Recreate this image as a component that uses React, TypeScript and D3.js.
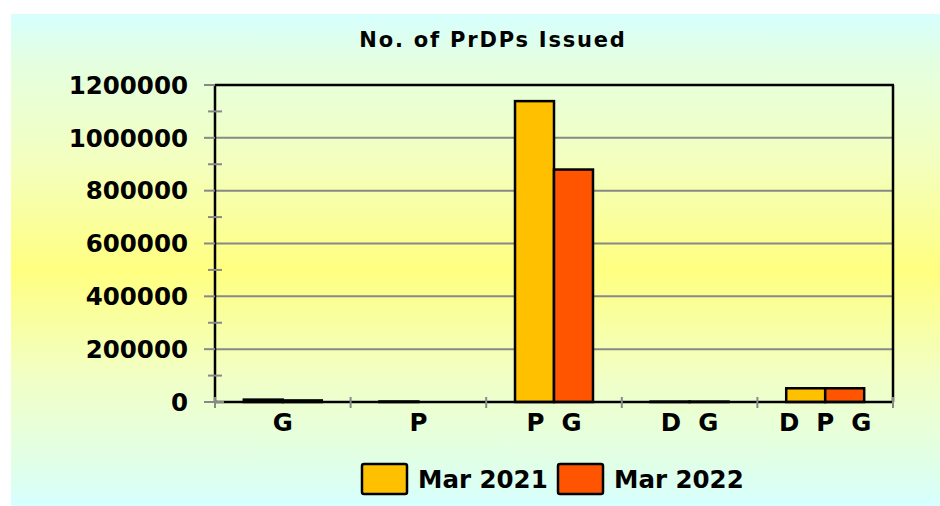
import React from "react";
import * as d3 from "d3";

const categories = ["G", "P", "P  G", "D  G", "D  P  G"];
const seriesNames = ["Mar 2021", "Mar 2022"];
const mar2021 = [9000, 2000, 1139000, 1500, 52000];
const mar2022 = [6000, 0, 880000, 1500, 52000];
const yTicks = [0, 200000, 400000, 600000, 800000, 1000000, 1200000];
const colors = ["#FFC000", "#FF5500"];

const W = 940, H = 506;
const L = 215, R = 893, T = 85, B = 402;
const FONT = "'DejaVu Sans', Arial, sans-serif";

export default function App() {
  const x = d3.scaleBand<string>().domain(categories).range([L, R]).paddingInner(0.425).paddingOuter(0.2125);
  const xs = d3.scaleBand<string>().domain(seriesNames).range([0, x.bandwidth()]);
  const y = d3.scaleLinear().domain([0, 1200000]).range([B, T]);
  const minor = d3.range(100000, 1200000, 200000);
  const series = [mar2021, mar2022];
  const bounds = d3.range(categories.length + 1).map((i) => L + (i * (R - L)) / categories.length);

  return (
    <svg width={W} height={H} style={{ position: "absolute", left: 0, top: 0 }}>
      <defs>
        <linearGradient id="bg" x1="0" y1="0" x2="0" y2="1">
          <stop offset="0" stopColor="#d6fffe" />
          <stop offset="0.1" stopColor="#e4ffe0" />
          <stop offset="0.3" stopColor="#f3ffbf" />
          <stop offset="0.52" stopColor="#ffff80" />
          <stop offset="0.74" stopColor="#f1ffc6" />
          <stop offset="0.9" stopColor="#e2ffe4" />
          <stop offset="1" stopColor="#d6fffe" />
        </linearGradient>
      </defs>
      <rect x={11} y={14} width={W - 11} height={H - 14} fill="url(#bg)" />
      <text x={493} y={47} textAnchor="middle" fontFamily={FONT} fontWeight="bold" fontSize={21} letterSpacing={1.8}>
        No. of PrDPs Issued
      </text>
      {/* gridlines */}
      {yTicks.slice(1, -1).map((t) => (
        <line key={t} x1={L} x2={R} y1={y(t)} y2={y(t)} stroke="#888" strokeWidth={2} />
      ))}
      {/* frame top and right */}
      <line x1={L} x2={R + 1} y1={T} y2={T} stroke="#000" strokeWidth={2.5} />
      <line x1={R} x2={R} y1={T} y2={B} stroke="#000" strokeWidth={2.5} />
      {/* bars */}
      {series.map((vals, si) =>
        categories.map((c, ci) => {
          const v = vals[ci];
          if (v <= 0) return null;
          const x0 = (x(c) as number) + (xs(seriesNames[si]) as number);
          return (
            <rect key={si + "-" + ci} x={x0} y={y(v)} width={xs.bandwidth()} height={B - y(v)}
              fill={colors[si]} stroke="#000" strokeWidth={2.5} />
          );
        })
      )}
      {/* axes */}
      <line x1={L} x2={L} y1={T} y2={B} stroke="#000" strokeWidth={2.5} />
      <line x1={L} x2={R} y1={B} y2={B} stroke="#000" strokeWidth={2.5} />
      {yTicks.map((t) => (
        <line key={"mt" + t} x1={204} x2={L} y1={y(t)} y2={y(t)} stroke="#888" strokeWidth={2} />
      ))}
      {minor.map((t) => (
        <line key={"mn" + t} x1={208} x2={222} y1={y(t)} y2={y(t)} stroke="#888" strokeWidth={2} />
      ))}
      <line x1={204} x2={224} y1={B} y2={B} stroke="#888" strokeWidth={2} />
      {bounds.map((bx, i) => (
        <line key={"xb" + i} x1={bx} x2={bx} y1={B - 5} y2={B + 6} stroke="#888" strokeWidth={2} />
      ))}
      {yTicks.map((t) => (
        <text key={"yl" + t} x={188} y={y(t)} dy="0.36em" textAnchor="end" fontFamily={FONT}
          fontWeight="bold" fontSize={24.5}>{t}</text>
      ))}
      {categories.map((c) => (
        <text key={"xl" + c} x={(x(c) as number) + x.bandwidth() / 2} y={431} textAnchor="middle"
          fontFamily={FONT} fontWeight="bold" fontSize={24.5} style={{ whiteSpace: "pre" }}>{c}</text>
      ))}
      {/* legend */}
      {seriesNames.map((s, i) => {
        const bx = i === 0 ? 362 : 558;
        return (
          <g key={s}>
            <rect x={bx} y={464} width={45} height={30} rx={2} fill={colors[i]} stroke="#000" strokeWidth={2.5} />
            <text x={bx + 56} y={488} fontFamily={FONT} fontWeight="bold" fontSize={24.5}>{s}</text>
          </g>
        );
      })}
    </svg>
  );
}
